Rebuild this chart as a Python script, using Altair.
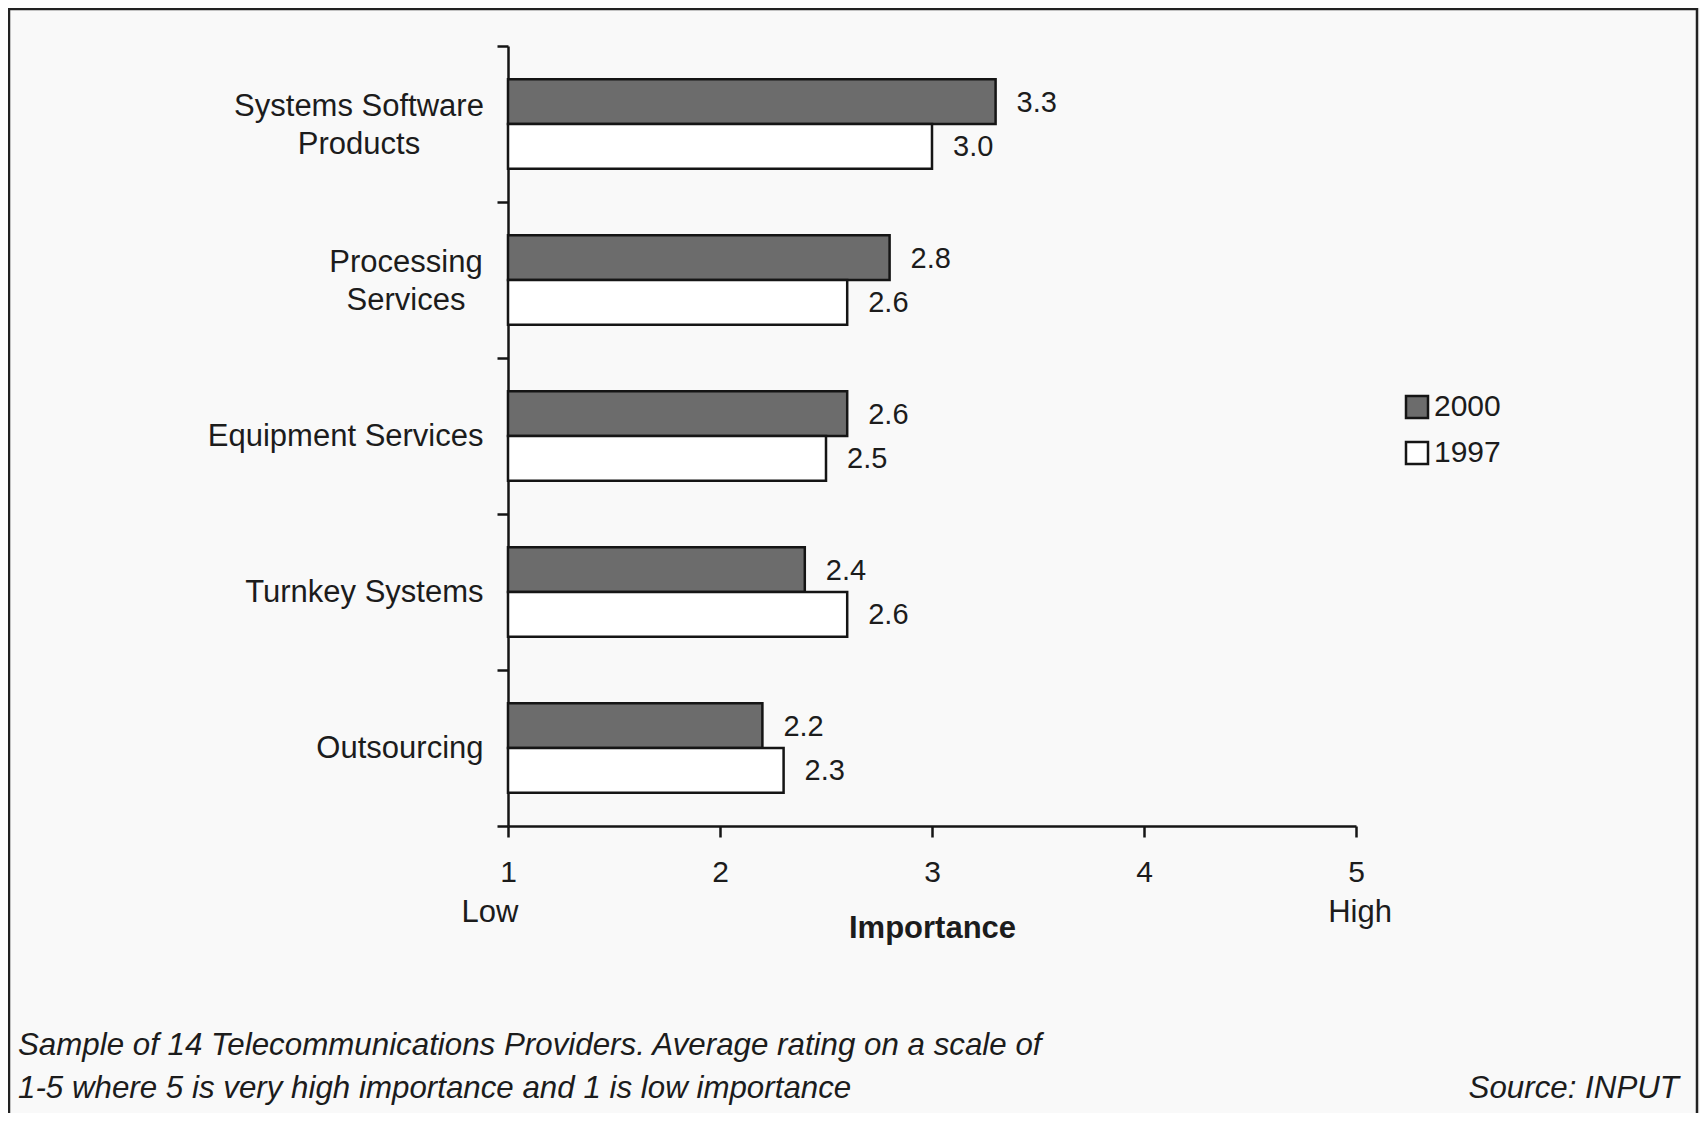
import json
import altair as alt
import pandas as pd

categories = ["Systems Software Products", "Processing Services", "Equipment Services",
              "Turnkey Systems", "Outsourcing"]
years = ["2000", "1997"]
values_2000 = [3.3, 2.8, 2.6, 2.4, 2.2]
values_1997 = [3.0, 2.6, 2.5, 2.6, 2.3]
x_ticks = [1, 2, 3, 4, 5]
x_end_values = [1, 5]
x_end_labels = ["Low", "High"]
x_title = "Importance"
footnote_lines = [
    "Sample of 14 Telecommunications Providers. Average rating on a scale of",
    "1-5 where 5 is very high importance and 1 is low importance",
]
source_text = "Source: INPUT"
two_line_labels = {
    "Systems Software Products": "Systems Software\nProducts",
    "Processing Services": "Processing\nServices",
}

rows = []
for c, a, b in zip(categories, values_2000, values_1997):
    rows.append({"category": c, "year": years[0], "value": a})
    rows.append({"category": c, "year": years[1], "value": b})
df = pd.DataFrame(rows)
cat_df = pd.DataFrame({"category": list(two_line_labels.keys()),
                       "label": list(two_line_labels.values())})
ends_df = pd.DataFrame({"v": x_end_values, "t": x_end_labels})
dummy = pd.DataFrame({"k": [0]})

FONT = "Liberation Sans"
TXT = "#1c1c1c"
LINE = "#151515"

multi_test = " || ".join(f"datum.value == {json.dumps(k)}" for k in two_line_labels)

y_axis = alt.Axis(
    domainColor=LINE, domainWidth=2.5, tickBand="extent", tickSize=11,
    tickWidth=2.5, tickColor=LINE, labelExpr=f"({multi_test}) ? '' : datum.label",
    labelFont=FONT, labelFontSize=31, labelColor=TXT, labelPadding=14,
    labelAlign="right", labelBaseline="middle", labelLimit=500, grid=False,
)
y_enc = alt.Y("category:N", sort=categories, title=None,
              scale=alt.Scale(paddingInner=0, paddingOuter=0), axis=y_axis)
yoff_enc = alt.YOffset("year:N", sort=years,
                       scale=alt.Scale(domain=years, paddingInner=0, paddingOuter=0.74))
x_enc = alt.X(
    "value:Q",
    scale=alt.Scale(domain=[1, 5], nice=False, zero=False),
    axis=alt.Axis(
        values=x_ticks, format="d", domainColor=LINE, domainWidth=2.5, tickSize=11,
        tickWidth=2.5, tickColor=LINE, labelFont=FONT, labelFontSize=30,
        labelColor=TXT, labelPadding=20, labelFlush=False, grid=False,
        title=x_title, titleFont=FONT, titleFontSize=31, titleFontWeight="bold",
        titleColor=TXT, titleX=424, titleY=102, titleBaseline="middle",
        titleAlign="center",
    ),
)

bars = alt.Chart(df).mark_bar(stroke=LINE, strokeWidth=2.5).encode(
    y=y_enc,
    yOffset=yoff_enc,
    x=x_enc,
    x2=alt.datum(1),
    fill=alt.Fill(
        "year:N", sort=years,
        scale=alt.Scale(domain=years, range=["#6c6c6c", "#ffffff"]),
        legend=alt.Legend(
            title=None, orient="none", legendX=894, legendY=346,
            symbolType="square", symbolSize=484, symbolStrokeColor=LINE,
            symbolStrokeWidth=2.5, symbolOpacity=1, labelFont=FONT,
            labelFontSize=30, labelColor=TXT, labelOffset=2, rowPadding=14,
        ),
    ),
)

value_labels = alt.Chart(df).mark_text(
    align="left", baseline="middle", dx=21, dy=1, font=FONT, fontSize=29, color=TXT
).encode(
    y=y_enc, yOffset=yoff_enc, x=x_enc,
    text=alt.Text("value:Q", format=".1f"),
)

label_style = dict(align="center", baseline="middle", lineBreak="\n", lineHeight=38,
                   font=FONT, fontSize=31, color=TXT, dy=-17)
label_sys = alt.Chart(cat_df).transform_filter(
    f"datum.category == {json.dumps(categories[0])}"
).mark_text(**label_style).encode(y=y_enc, x=alt.value(-149), text="label:N")
label_proc = alt.Chart(cat_df).transform_filter(
    f"datum.category == {json.dumps(categories[1])}"
).mark_text(**label_style).encode(y=y_enc, x=alt.value(-102), text="label:N")

low = alt.Chart(ends_df).transform_filter("datum.v == 1").mark_text(
    align="center", baseline="middle", dx=-18, font=FONT, fontSize=31, color=TXT
).encode(x=alt.X("v:Q"), y=alt.value(867), text="t:N")
high = alt.Chart(ends_df).transform_filter("datum.v == 5").mark_text(
    align="center", baseline="middle", dx=4, font=FONT, fontSize=31, color=TXT
).encode(x=alt.X("v:Q"), y=alt.value(867), text="t:N")

frame = alt.Chart(dummy).mark_rect(filled=False, stroke="#222222", strokeWidth=2.5).encode(
    x=alt.value(-499), x2=alt.value(1189), y=alt.value(-37), y2=alt.value(1090)
)

foot_style = dict(baseline="middle", font=FONT, fontSize=31.3, fontStyle="italic", color=TXT)
foot1 = alt.Chart(dummy).mark_text(text=footnote_lines[0], align="left", **foot_style).encode(
    x=alt.value(-490), y=alt.value(1000))
foot2 = alt.Chart(dummy).mark_text(text=footnote_lines[1], align="left", **foot_style).encode(
    x=alt.value(-490), y=alt.value(1043))
source = alt.Chart(dummy).mark_text(text=source_text, align="right", **foot_style).encode(
    x=alt.value(1171), y=alt.value(1043))

chart = alt.layer(
    frame, bars, value_labels, label_sys, label_proc, low, high, foot1, foot2, source
).properties(
    width=848, height=780,
    padding={"left": 500, "top": 38, "right": 344, "bottom": 287},
    autosize=alt.AutoSizeParams(type="none"),
    background="#f9f9f9",
    view=alt.ViewBackground(stroke="transparent", strokeWidth=0),
).configure_view(stroke="transparent", strokeWidth=0).configure(font=FONT)

chart.save("out.html", embed_options={"renderer": "svg", "actions": False})
